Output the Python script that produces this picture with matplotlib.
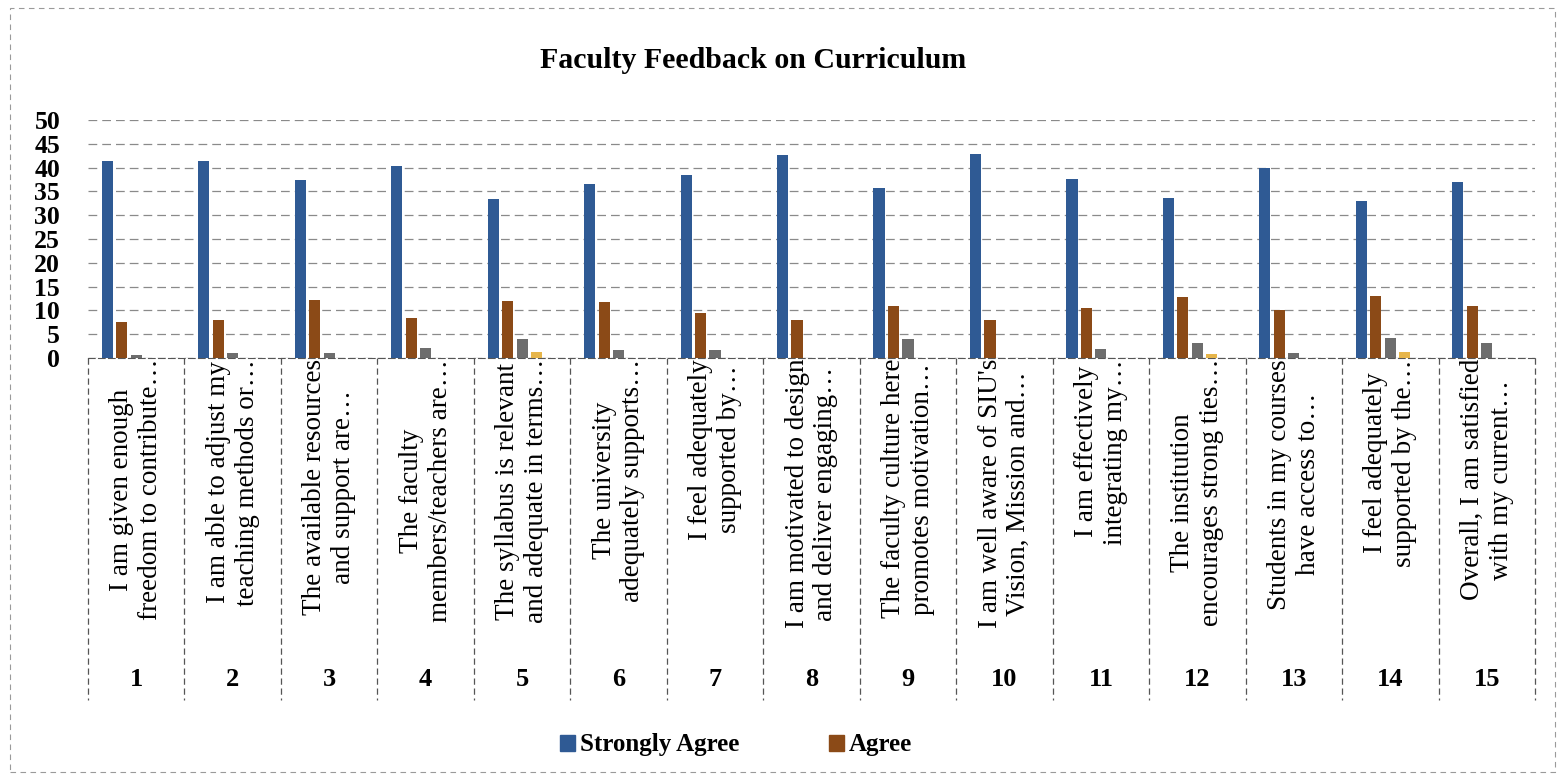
import numpy as np
import matplotlib
matplotlib.use("Agg")
import matplotlib.pyplot as plt
from matplotlib.patches import Rectangle, Patch
from matplotlib.transforms import blended_transform_factory

# data
items = [
    "I am given enough\nfreedom to contribute…",
    "I am able to adjust my\nteaching methods or…",
    "The available resources\nand support are…",
    "The faculty\nmembers/teachers are…",
    "The syllabus is relevant\nand adequate in terms…",
    "The university\nadequately supports…",
    "I feel adequately\nsupported by…",
    "I am motivated to design\nand deliver engaging…",
    "The faculty culture here\npromotes motivation…",
    "I am well aware of SIU's\nVision, Mission and…",
    "I am effectively\nintegrating my…",
    "The institution\nencourages strong ties…",
    "Students in my courses\nhave access to…",
    "I feel adequately\nsupported by the…",
    "Overall, I am satisfied\nwith my current…",
]
numbers = [str(i) for i in range(1, 16)]

strongly_agree = [41.3, 41.3, 37.4, 40.3, 33.5, 36.5, 38.5, 42.7, 35.7, 42.9, 37.6, 33.6, 39.9, 32.9, 36.9]
agree = [7.6, 8.0, 12.2, 8.5, 11.9, 11.7, 9.5, 7.9, 10.9, 8.0, 10.6, 12.8, 10.0, 13.1, 11.0]
neutral = [0.7, 1.0, 1.0, 2.0, 4.0, 1.7, 1.7, 0.0, 4.0, 0.0, 1.9, 3.1, 1.1, 4.2, 3.1]
disagree = [0, 0, 0, 0, 1.2, 0, 0, 0, 0, 0, 0, 0.9, 0, 1.2, 0]
strongly_disagree = [0] * 15

series = [
    ("Strongly Agree", strongly_agree, "#2F5A94"),
    ("Agree", agree, "#8B4A17"),
    ("Neutral", neutral, "#6D6D6D"),
    ("Disagree", disagree, "#E6B54A"),
    ("Strongly Disagree", strongly_disagree, "#2E4F7A"),
]

plt.rcParams["font.family"] = ["Liberation Serif", "DejaVu Serif"]

fig = plt.figure(figsize=(15.65, 7.8), dpi=100)
ax = fig.add_axes([88 / 1565, 422 / 780, (1535 - 88) / 1565, 238 / 780])

x = np.arange(len(items))
w = 0.115
step = 0.15
for i, (name, vals, col) in enumerate(series):
    ax.bar(x + (i - 2) * step, vals, width=w, color=col, zorder=3)

ax.set_xlim(-0.5, len(items) - 0.5)
ax.set_ylim(0, 50)
ax.set_yticks(range(0, 51, 5))
ax.tick_params(axis="y", length=0, pad=20, labelsize=18.5)
for lab in ax.get_yticklabels():
    lab.set_fontweight("bold")
ax.set_xticks([])
ax.grid(axis="y", color="#8a8a8a", linewidth=0.9, linestyle=(0, (7, 4)), zorder=0)
for s in ["top", "right", "left"]:
    ax.spines[s].set_visible(False)
ax.spines["bottom"].set_color("#555555")
ax.spines["bottom"].set_linestyle((0, (6, 3)))

# multi-level category axis below the plot
tr = blended_transform_factory(ax.transData, fig.transFigure)
for k in range(len(items) + 1):
    ax.plot([k - 0.5, k - 0.5], [422 / 780, 80 / 780], transform=tr, color="#555555",
            linewidth=0.9, linestyle=(0, (5, 3)), clip_on=False)
for i, (txt, num) in enumerate(zip(items, numbers)):
    ax.text(i, 421 / 780, txt, transform=tr, rotation=90, ha="center", va="top",
            multialignment="center", fontsize=19.5, linespacing=1.2)
    ax.text(i, 100 / 780, num, transform=tr, ha="center", va="center",
            fontsize=19, fontweight="bold")

fig.text(753 / 1565, 0.922, "Faculty Feedback on Curriculum", ha="center", va="center",
         fontsize=21.5, fontweight="bold")

handles = [Patch(color=series[0][2]), Patch(color=series[1][2])]
fig.legend(handles, ["Strongly Agree", "Agree"], loc="center", bbox_to_anchor=(736 / 1565, 0.045),
           ncol=2, frameon=False, handlelength=0.6, handleheight=0.6, handletextpad=0.2,
           columnspacing=3.6, prop={"weight": "bold", "size": 18})

# faint chart border from the scan
fig.patches.append(Rectangle((10 / 1565, 8 / 780), 1545 / 1565, 764 / 780, transform=fig.transFigure,
                             fill=False, edgecolor="#9a9a9a", linewidth=0.8, linestyle=(0, (5, 4))))

fig.savefig("out.png", dpi=100)
